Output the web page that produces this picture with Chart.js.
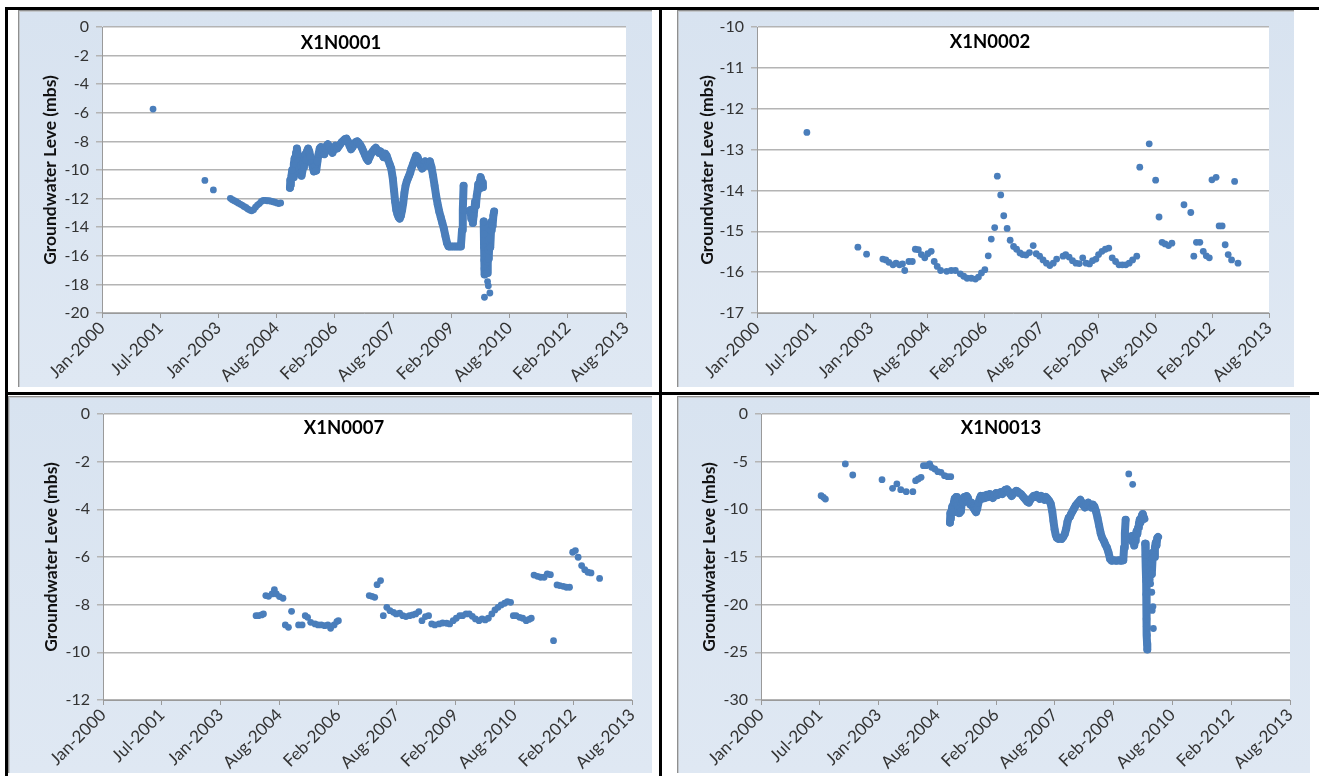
<!DOCTYPE html>
<html><head><meta charset="utf-8">
<script src="https://cdn.jsdelivr.net/npm/chart.js@4.4.0/dist/chart.umd.min.js"></script>
<style>
html,body{margin:0;padding:0;background:#fff;width:1319px;height:776px;overflow:hidden;position:relative;font-family:Lato,sans-serif}
.panel{position:absolute;background:linear-gradient(180deg,#d8e3f0 0%,#dfe8f3 100%);box-shadow:inset 1px 1px 0 #8f8f8f, inset 2px 2px 0 #c4c8cc;}
.panel canvas{position:absolute;left:0;top:0}
.rule{position:absolute;background:#000}
</style></head><body>
<div class="panel" id="p1" style="left:18px;top:10px;width:634px;height:377px"><canvas id="c1" width="634" height="377"></canvas></div>
<div class="panel" id="p2" style="left:677px;top:10px;width:617px;height:377px"><canvas id="c2" width="617" height="377"></canvas></div>
<div class="panel" id="p3" style="left:8px;top:396px;width:644px;height:377px"><canvas id="c3" width="644" height="377"></canvas></div>
<div class="panel" id="p4" style="left:677px;top:396px;width:633px;height:377px"><canvas id="c4" width="633" height="377"></canvas></div>
<div class="rule" style="left:5px;top:7px;width:1314px;height:3px"></div>
<div class="rule" style="left:5px;top:7px;width:3px;height:769px"></div>
<div class="rule" style="left:659px;top:7px;width:3px;height:769px"></div>
<div class="rule" style="left:5px;top:392px;width:1314px;height:3px"></div>
<script>
// ---------- shared axis labels ----------
const xTickLabels = ['Jan-2000','Jul-2001','Jan-2003','Aug-2004','Feb-2006','Aug-2007','Feb-2009','Aug-2010','Feb-2012','Aug-2013'];
const xStart = 2000.0, xEnd = 2013.55;   // decimal years at first / last tick
const yAxisTitle = 'Groundwater Leve (mbs)';

// ---------- X1N0001 ----------
const x1n0001SpotDates  = [2001.32, 2002.66, 2002.88,
  2003.32,2003.37,2003.42,2003.47,2003.52,2003.57,2003.62,2003.67,2003.72,2003.77,2003.82,2003.87,2003.92,2003.97,
  2004.02,2004.07,2004.12,2004.17,2004.22,2004.27,2004.32,2004.37,2004.42,2004.47,2004.52,2004.57,2004.62];
const x1n0001SpotLevels = [-5.74, -10.73, -11.39,
  -11.98,-12.08,-12.15,-12.22,-12.30,-12.38,-12.45,-12.55,-12.62,-12.72,-12.80,-12.85,-12.78,-12.60,
  -12.45,-12.35,-12.20,-12.12,-12.12,-12.15,-12.15,-12.18,-12.22,-12.25,-12.30,-12.35,-12.30];
const x1n0001LoggerDates = [
  2004.86,2004.87,2004.88,2004.90,2004.92,2004.94,2004.96,2004.98,2005.00,2005.02,2005.04,2005.06,2005.08,2005.10,2005.12,2005.14,
  2005.16,2005.18,2005.20,2005.22,2005.24,2005.26,2005.28,2005.30,2005.33,2005.36,2005.39,2005.42,2005.45,2005.48,2005.51,2005.54,
  2005.57,2005.60,2005.63,2005.66,2005.69,2005.72,2005.75,2005.78,2005.81,2005.84,2005.88,2005.92,2005.96,2006.00,2006.04,2006.08,
  2006.12,2006.16,2006.20,2006.24,2006.28,2006.32,2006.36,2006.40,2006.44,2006.48,2006.52,2006.56,2006.60,2006.64,2006.68,2006.72,
  2006.76,2006.80,2006.84,2006.88,2006.92,2006.96,2007.00,2007.04,2007.08,2007.12,2007.16,2007.20,2007.24,2007.28,2007.32,2007.36,
  2007.40,2007.44,2007.48,2007.52,2007.55,2007.58,2007.61,2007.64,2007.67,2007.70,2007.73,2007.76,2007.79,2007.82,2007.85,2007.88,
  2007.91,2007.94,2007.97,2008.00,2008.04,2008.08,2008.12,2008.16,2008.20,2008.24,2008.28,2008.32,2008.36,2008.40,2008.44,2008.48,
  2008.52,2008.56,2008.60,2008.64,2008.68,2008.72,2008.76,2008.80,2008.84,2008.88,2008.92,2008.96,2009.00,2009.06,2009.12,2009.18,
  2009.24,2009.28,2009.31,2009.33,2009.35, 2009.36,
  2009.53,2009.55,2009.57,2009.59,2009.61,2009.63,2009.65,2009.67,2009.69,2009.71,2009.73,2009.75,2009.77,2009.79,2009.81,2009.83,2009.85, 2009.86,
  2009.87,2009.875,2009.88,2009.885,2009.89,2009.895,2009.90, 2009.92,
  2009.96,2009.97,2009.98,2010.00,2010.02,2010.04,2010.06,2010.08,2010.10,2010.12,2010.14];
const x1n0001LoggerLevels = [
  -11.25,-10.70,-11.05,-10.40,-10.00,-10.50,-9.60,-9.20,-9.60,-8.80,-8.50,-8.90,-9.40,-9.90,-10.20,-9.70,
  -10.40,-10.10,-9.50,-9.80,-9.20,-8.90,-9.30,-8.70,-8.50,-8.70,-9.10,-9.50,-9.80,-10.10,-9.70,-10.05,
  -9.40,-8.90,-8.50,-8.40,-8.80,-8.60,-8.90,-8.50,-8.30,-8.20,-8.40,-8.60,-8.80,-8.50,-8.30,-8.50,
  -8.35,-8.20,-8.05,-7.95,-7.85,-7.80,-8.00,-8.30,-8.55,-8.40,-8.20,-8.05,-8.00,-8.10,-8.25,-8.45,
  -8.70,-8.95,-9.20,-9.35,-9.10,-8.85,-8.70,-8.55,-8.45,-8.60,-8.80,-8.70,-8.90,-9.10,-8.85,-9.00,
  -9.30,-9.60,-9.90,-10.60,-11.40,-12.20,-12.80,-13.10,-13.30,-13.40,-13.20,-12.80,-12.30,-11.60,-11.10,-10.80,
  -10.60,-10.40,-10.20,-9.90,-9.60,-9.30,-9.00,-9.10,-9.40,-9.70,-9.90,-9.60,-9.40,-9.70,-9.50,-9.40,
  -9.80,-10.40,-11.10,-11.80,-12.40,-12.90,-13.30,-13.70,-14.10,-14.60,-15.10,-15.35,-15.35,-15.35,-15.35,-15.35,
  -15.35,-15.35,-14.20,-12.80,-11.10, null,
  -12.80,-13.40,-12.90,-13.70,-13.20,-12.70,-12.20,-12.50,-11.80,-11.50,-11.00,-11.30,-10.80,-10.50,-10.70,-10.90,-11.20, null,
  -13.60,-14.50,-15.40,-16.30,-16.90,-17.30,-16.60, null,
  -17.20,-16.40,-15.60,-16.20,-14.80,-15.40,-14.20,-13.60,-13.90,-13.20,-12.90];
const x1n0001ExtraDates  = [2009.89, 2009.97, 2009.99, 2010.03];
const x1n0001ExtraLevels = [-18.90, -17.80, -18.10, -18.60];

// ---------- X1N0002 ----------
const x1n0002Dates = [2001.32,2002.67,2002.90,2003.33,2003.41,2003.49,2003.60,2003.68,2003.77,2003.85,2003.91,2004.02,2004.11,
  2004.19,2004.27,2004.35,2004.44,2004.52,2004.61,2004.69,2004.77,2004.86,2005.02,2005.14,2005.25,2005.38,2005.47,2005.56,
  2005.67,2005.78,2005.86,2005.94,2006.03,2006.12,2006.20,2006.29,2006.36,2006.45,2006.53,2006.62,2006.70,2006.79,2006.87,
  2006.96,2007.03,2007.12,2007.21,2007.31,2007.39,2007.48,2007.57,2007.66,2007.75,2007.84,2007.93,2008.10,2008.17,2008.26,
  2008.35,2008.44,2008.53,2008.62,2008.71,2008.80,2008.88,2008.97,2009.04,2009.13,2009.22,2009.31,2009.40,2009.49,2009.58,
  2009.67,2009.76,2009.85,2009.94,2010.05,2010.13,2010.38,2010.55,2010.64,2010.72,2010.80,2010.89,2010.98,2011.30,2011.48,
  2011.56,2011.63,2011.72,2011.81,2011.89,2011.97,2012.04,2012.15,2012.23,2012.31,2012.39,2012.47,2012.56,2012.64,2012.73];
const x1n0002Levels = [-12.58,-15.39,-15.56,-15.68,-15.70,-15.76,-15.82,-15.78,-15.82,-15.80,-15.96,-15.74,-15.74,
  -15.44,-15.45,-15.57,-15.65,-15.55,-15.49,-15.74,-15.86,-15.96,-15.98,-15.96,-15.96,-16.04,-16.10,-16.15,
  -16.15,-16.17,-16.12,-16.02,-15.94,-15.60,-15.19,-14.91,-13.65,-14.11,-14.62,-14.93,-15.22,-15.37,-15.44,
  -15.53,-15.57,-15.58,-15.52,-15.35,-15.55,-15.61,-15.70,-15.78,-15.84,-15.78,-15.68,-15.61,-15.57,-15.63,
  -15.72,-15.78,-15.79,-15.65,-15.78,-15.80,-15.72,-15.68,-15.57,-15.49,-15.44,-15.41,-15.65,-15.74,-15.82,
  -15.82,-15.82,-15.78,-15.70,-15.61,-13.43,-12.86,-13.75,-14.65,-15.27,-15.31,-15.35,-15.29,-14.35,-14.54,
  -15.61,-15.27,-15.27,-15.49,-15.60,-15.65,-13.74,-13.68,-14.87,-14.87,-15.33,-15.57,-15.70,-13.78,-15.78];

// ---------- X1N0007 ----------
const x1n0007Dates = [2003.92,2003.98,2004.06,2004.11,2004.17,2004.24,2004.33,2004.39,2004.44,2004.52,2004.61,2004.67,2004.75,
  2004.83,2005.01,2005.10,2005.18,2005.24,2005.32,2005.43,2005.51,2005.59,2005.68,2005.76,2005.83,2005.92,2005.99,2006.03,
  2006.82,2006.89,2006.96,2007.02,2007.11,2007.18,2007.27,2007.35,2007.44,2007.51,2007.60,2007.68,2007.76,2007.85,2007.93,
  2008.01,2008.09,2008.17,2008.26,2008.34,2008.42,2008.50,2008.61,2008.70,2008.80,2008.88,2008.97,2009.05,2009.14,2009.21,
  2009.30,2009.38,2009.46,2009.54,2009.63,2009.71,2009.79,2009.87,2009.96,2010.04,2010.12,2010.20,2010.29,2010.36,2010.44,
  2010.51,2010.58,2010.67,2010.75,2010.84,2010.91,2010.97,2011.04,2011.13,2011.21,2011.30,2011.38,2011.46,2011.54,2011.63,
  2011.70,2011.79,2011.87,2011.95,2012.03,2012.10,2012.17,2012.26,2012.34,2012.42,2012.50,2012.72];
const x1n0007Levels = [-8.46,-8.46,-8.43,-8.39,-7.62,-7.65,-7.55,-7.37,-7.55,-7.66,-7.73,-8.85,-8.95,
  -8.28,-8.85,-8.85,-8.46,-8.53,-8.74,-8.81,-8.85,-8.85,-8.88,-8.85,-8.99,-8.85,-8.71,-8.67,
  -7.62,-7.65,-7.69,-7.16,-6.99,-8.46,-8.11,-8.25,-8.32,-8.39,-8.36,-8.46,-8.50,-8.46,-8.43,
  -8.39,-8.29,-8.67,-8.50,-8.46,-8.81,-8.85,-8.81,-8.77,-8.78,-8.81,-8.67,-8.57,-8.46,-8.46,
  -8.39,-8.39,-8.49,-8.60,-8.67,-8.60,-8.64,-8.57,-8.39,-8.22,-8.11,-8.01,-7.94,-7.87,-7.90,
  -8.46,-8.46,-8.53,-8.57,-8.67,-8.62,-8.57,-6.76,-6.81,-6.85,-6.85,-6.71,-6.74,-9.51,-7.17,
  -7.20,-7.23,-7.27,-7.27,-5.80,-5.73,-6.01,-6.36,-6.53,-6.64,-6.67,-6.90];

// ---------- X1N0013 ----------
const x1n0013SpotDates  = [2001.54,2001.60,2001.65,2002.16,2002.35,2003.10,2003.37,2003.48,2003.58,2003.72,2003.89,2003.96,
  2004.03,2004.10,2004.16,2004.23,2004.32,2004.37,2004.45,2004.53,2004.61,2004.70,2004.78,2004.86, 2009.42,2009.52];
const x1n0013SpotLevels = [-8.57,-8.74,-8.92,-5.24,-6.40,-6.89,-7.80,-7.34,-7.94,-8.15,-8.15,-6.99,
  -6.82,-6.64,-5.42,-5.42,-5.24,-5.59,-5.77,-6.05,-6.12,-6.47,-6.57,-6.57, -6.29,-7.38];
const x1n0013LoggerDates = [
  2004.84,2004.85,2004.86,2004.88,2004.90,2004.92,2004.94,2004.96,2004.98,2005.00,2005.02,2005.04,2005.06,2005.08,2005.10,2005.12,
  2005.14,2005.16,2005.18,2005.21,2005.24,2005.27,2005.30,2005.33,2005.36,2005.39,2005.42,2005.45,2005.48,2005.51,2005.54,2005.57,
  2005.60,2005.63,2005.66,2005.70,2005.74,2005.78,2005.82,2005.86,2005.90,2005.94,2005.98,2006.02,2006.06,2006.10,2006.14,2006.18,
  2006.22,2006.26,2006.30,2006.34,2006.38,2006.42,2006.46,2006.50,2006.54,2006.58,2006.62,2006.66,2006.70,2006.74,2006.78,2006.82,
  2006.86,2006.90,2006.94,2006.98,2007.02,2007.06,2007.10,2007.14,2007.18,2007.22,2007.26,2007.30,2007.34,2007.38,2007.42,2007.46,
  2007.49,2007.52,2007.55,2007.58,2007.62,2007.66,2007.70,2007.74,2007.78,2007.82,2007.85,2007.88,2007.91,2007.94,2007.98,2008.02,
  2008.06,2008.10,2008.14,2008.18,2008.22,2008.26,2008.30,2008.34,2008.38,2008.42,2008.46,2008.50,2008.54,2008.58,2008.62,2008.66,
  2008.70,2008.74,2008.78,2008.82,2008.86,2008.90,2008.94,2008.98,2009.04,2009.10,2009.16,2009.22,2009.28,2009.30,2009.32,2009.34, 2009.35,
  2009.50,2009.52,2009.54,2009.56,2009.58,2009.60,2009.62,2009.64,2009.66,2009.68,2009.70,2009.72,2009.74,2009.76,2009.78,2009.80,2009.82, 2009.83,
  2009.84,2009.85,2009.86,2009.865,2009.87,2009.875,2009.88,2009.885,2009.89,2009.895, 2009.90,
  2009.95,2009.97,2009.99,2010.01,2010.03,2010.05,2010.07,2010.09,2010.11,2010.13,2010.15,2010.17];
const x1n0013LoggerLevels = [
  -11.40,-10.40,-11.00,-10.20,-9.70,-10.30,-9.30,-8.90,-9.40,-8.70,-9.10,-9.60,-10.00,-10.40,-9.80,-10.20,
  -9.40,-9.00,-9.30,-8.70,-9.00,-8.60,-8.80,-9.20,-9.50,-9.30,-9.70,-9.90,-10.10,-10.30,-9.90,-9.30,
  -8.90,-8.60,-8.90,-8.60,-8.80,-8.50,-8.70,-8.40,-8.60,-8.80,-8.50,-8.30,-8.50,-8.30,-8.20,-8.40,
  -8.10,-7.95,-7.90,-8.10,-8.40,-8.60,-8.40,-8.20,-8.05,-8.15,-8.30,-8.40,-8.60,-8.80,-9.00,-9.20,
  -9.30,-9.00,-8.80,-8.60,-8.70,-8.50,-8.70,-8.90,-8.60,-8.80,-9.00,-8.70,-8.90,-9.10,-9.40,-10.20,
  -11.20,-12.10,-12.70,-13.00,-13.10,-13.00,-13.10,-12.90,-12.60,-12.00,-11.30,-10.90,-10.80,-10.50,-10.20,-9.90,
  -9.60,-9.40,-9.20,-9.00,-9.30,-9.60,-9.80,-9.50,-9.30,-9.60,-9.80,-9.50,-9.70,-10.20,-10.90,-11.70,
  -12.50,-13.00,-13.30,-13.70,-14.00,-14.50,-15.20,-15.40,-15.35,-15.40,-15.35,-15.40,-15.35,-14.00,-12.50,-11.10, null,
  -12.80,-13.40,-12.90,-13.80,-13.30,-12.80,-12.30,-12.60,-11.90,-11.50,-11.10,-11.40,-10.90,-10.60,-10.50,-10.80,-11.00, null,
  -13.60,-14.80,-16.20,-17.50,-18.90,-21.50,-22.30,-23.20,-24.10,-24.70, null,
  -17.40,-16.50,-15.60,-16.80,-15.20,-14.50,-15.00,-14.00,-13.50,-13.80,-13.00,-12.90];
const x1n0013ExtraDates  = [2009.98, 2010.01, 2010.02, 2010.04, 2010.05];
const x1n0013ExtraLevels = [-17.80, -18.70, -20.60, -20.20, -22.50];

// ---------- helpers ----------
const blue = '#4a7ebb';
function pairs(xs, ys) { return xs.map((x, i) => ({x: x, y: ys[i]})); }

const plotBg = {
  id: 'plotBg',
  beforeDraw(chart) {
    const a = chart.chartArea, c = chart.ctx;
    c.save(); c.fillStyle = '#ffffff'; c.fillRect(a.left, a.top, a.right - a.left, a.bottom - a.top); c.restore();
  }
};
const panelTitle = {
  id: 'panelTitle',
  afterDraw(chart, args, o) {
    const c = chart.ctx;
    c.save();
    c.font = 'bold 18.5px Lato';
    c.fillStyle = '#000';
    c.textAlign = 'center';
    c.textBaseline = 'middle';
    c.fillText(o.text, o.x, o.y);
    c.restore();
  }
};

function makeChart(id, cfg) {
  const datasets = [];
  cfg.spots.forEach(s => datasets.push({data: pairs(s[0], s[1]), showLine: false,
    pointRadius: 3.4, pointBackgroundColor: blue, pointBorderColor: blue, pointBorderWidth: 0}));
  cfg.lines.forEach(s => datasets.push({data: pairs(s[0], s[1]), showLine: true, spanGaps: false,
    borderColor: blue, borderWidth: 8, borderCapStyle: 'round', borderJoinStyle: 'round',
    pointRadius: 3.8, pointBackgroundColor: blue, pointBorderColor: blue, pointBorderWidth: 0}));
  new Chart(document.getElementById(id), {
    type: 'scatter',
    data: {datasets: datasets},
    options: {
      responsive: false, animation: false, events: [],
      layout: {padding: {top: cfg.padT, right: cfg.padR, left: 0, bottom: 0}},
      plugins: {legend: {display: false}, tooltip: {enabled: false},
        panelTitle: {text: cfg.title, x: cfg.tx, y: cfg.ty}},
      scales: {
        x: {
          type: 'linear', min: xStart, max: xEnd,
          afterBuildTicks: s => { s.ticks = xTickLabels.map((t, i) => ({value: xStart + i * (xEnd - xStart) / (xTickLabels.length - 1)})); },
          afterFit: s => { s.height = cfg.xH; },
          ticks: {autoSkip: false, maxRotation: 45, minRotation: 45, padding: 0,
            color: '#333333', font: {family: 'Lato', size: 17},
            callback: (v, i) => xTickLabels[i]},
          grid: {drawOnChartArea: false, drawTicks: true, tickLength: 5, color: '#9a9a9a', lineWidth: 1},
          border: {display: true, color: '#9a9a9a', width: 1}
        },
        y: {
          min: cfg.yMin, max: cfg.yMax,
          afterFit: s => { s.width = cfg.yW; },
          ticks: {stepSize: cfg.yStep, padding: 7, color: '#333333', font: {family: 'Lato', size: 16}},
          grid: {color: '#b4b4b4', lineWidth: 1.5, drawTicks: true, tickLength: 6},
          border: {display: true, color: '#9a9a9a', width: 1},
          title: {display: true, text: yAxisTitle, color: '#111', font: {family: 'Lato', size: 17.5, weight: 'bold'},
            padding: {top: cfg.ytPad, bottom: 0}}
        }
      }
    },
    plugins: [plotBg, panelTitle]
  });
}

makeChart('c1', {title: 'X1N0001', tx: 323, ty: 33, padT: 17, padR: 26, xH: 74, yW: 84, ytPad: 21.5,
  yMin: -20, yMax: 0, yStep: 2,
  spots: [[x1n0001SpotDates, x1n0001SpotLevels], [x1n0001ExtraDates, x1n0001ExtraLevels]],
  lines: [[x1n0001LoggerDates, x1n0001LoggerLevels]]});
makeChart('c2', {title: 'X1N0002', tx: 313, ty: 32, padT: 17, padR: 25, xH: 74, yW: 80, ytPad: 19.5,
  yMin: -17, yMax: -10, yStep: 1,
  spots: [[x1n0002Dates, x1n0002Levels]], lines: []});
makeChart('c3', {title: 'X1N0007', tx: 336, ty: 32, padT: 18, padR: 20, xH: 73, yW: 95, ytPad: 32.5,
  yMin: -12, yMax: 0, yStep: 2,
  spots: [[x1n0007Dates, x1n0007Levels]], lines: []});
makeChart('c4', {title: 'X1N0013', tx: 324, ty: 32, padT: 18, padR: 20, xH: 73, yW: 84, ytPad: 21.5,
  yMin: -30, yMax: 0, yStep: 5,
  spots: [[x1n0013SpotDates, x1n0013SpotLevels], [x1n0013ExtraDates, x1n0013ExtraLevels]],
  lines: [[x1n0013LoggerDates, x1n0013LoggerLevels]]});
</script>
</body></html>
